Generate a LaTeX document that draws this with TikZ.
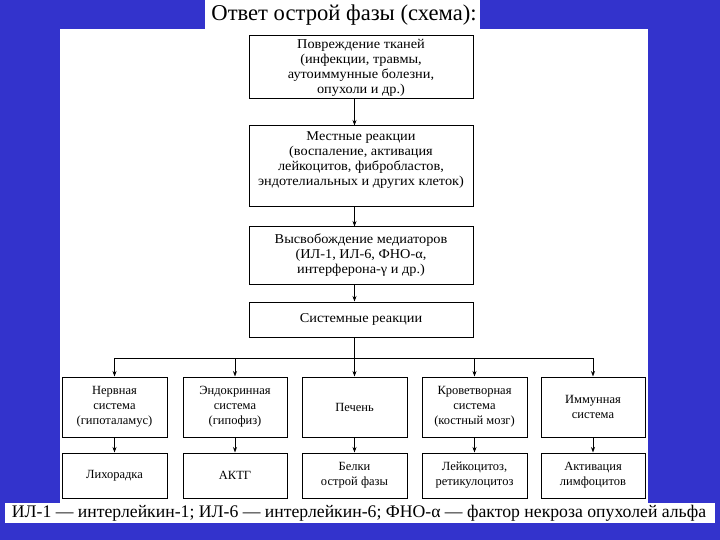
\documentclass[tikz,border=0pt]{standalone}
\usepackage{fontspec}
\setmainfont{Liberation Serif}
\newfontfamily\topfont{Liberation Serif}[FakeStretch=1.06]
\usetikzlibrary{arrows.meta}
\definecolor{bgblue}{RGB}{51,51,204}
\begin{document}
\begin{tikzpicture}[x=1pt,y=-1pt,
  box/.style={draw=black, line width=1pt, fill=white, align=center, inner sep=0pt,
              font=\fontsize{12.5}{15}\selectfont},
  topbox/.style={box, font=\topfont\fontsize{13.5}{15}\selectfont},
  plain/.style={align=center, inner sep=0pt, font=\topfont\fontsize{13.5}{15}\selectfont},
  arr/.style={-{Stealth[length=5.5pt,width=4pt]}, line width=0.8pt},
  ln/.style={line width=0.8pt}]
\fill[bgblue] (0,0) rectangle (720,540);
\useasboundingbox (0,0) rectangle (720,540);
\fill[white] (205,0) rectangle (480,30);
\fill[white] (60,29) rectangle (648,503);
\fill[white] (5,503) rectangle (715,523);
\node[inner sep=0pt] (title) at (344,15) {\fontsize{22.6}{26}\selectfont Ответ острой фазы (схема):};

% top chain
\node[topbox, minimum width=224, minimum height=63] (b1) at (361,67.5)
  {Повреждение тканей\\(инфекции, травмы,\\аутоиммунные болезни,\\опухоли и др.)};
\node[box, minimum width=224, minimum height=81] (b2) at (361,166.5) {};
\node[plain] (b2t) at (361,160)
  {Местные реакции\\(воспаление, активация\\лейкоцитов, фибробластов,\\эндотелиальных и других клеток)};
\node[topbox, minimum width=224, minimum height=57] (b3) at (361,255.5)
  {Высвобождение медиаторов\\(ИЛ-1, ИЛ-6, ФНО-α,\\интерферона-γ и др.)};
\node[topbox, minimum width=224, minimum height=35] (b4) at (361,319.5) {Системные реакции};

% systems row
\node[box, minimum width=105, minimum height=60] (nerv) at (114.5,407) {Нервная\\система\\(гипоталамус)};
\node[box, minimum width=104, minimum height=60] (endo) at (235,407) {Эндокринная\\система\\(гипофиз)};
\node[box, minimum width=105, minimum height=60] (liver) at (354.5,407) {Печень};
\node[box, minimum width=105, minimum height=60] (blood) at (474.5,407) {Кроветворная\\система\\(костный мозг)};
\node[box, minimum width=104, minimum height=60] (imm) at (593,407) {Иммунная\\система};

% effects row
\node[box, minimum width=105, minimum height=45] (fever) at (114.5,475.5) {Лихорадка};
\node[box, minimum width=104, minimum height=45] (acth) at (235,475.5) {АКТГ};
\node[box, minimum width=105, minimum height=45] (prot) at (354.5,475.5) {Белки\\острой фазы};
\node[box, minimum width=105, minimum height=45] (leuk) at (474.5,475.5) {Лейкоцитоз,\\ретикулоцитоз};
\node[box, minimum width=104, minimum height=45] (lymph) at (593,475.5) {Активация\\лимфоцитов};

% connectors
\draw[arr] (b1.south -| liver.north) -- (b2.north -| liver.north);
\draw[arr] (b2.south -| liver.north) -- (b3.north -| liver.north);
\draw[arr] (b3.south -| liver.north) -- (b4.north -| liver.north);
\coordinate (bus) at (354.5,358);
\draw[arr] (b4.south -| liver.north) -- (liver.north);
\draw[ln] (nerv.north |- bus) -- (imm.north |- bus);
\draw[arr] (nerv.north |- bus) -- (nerv.north);
\draw[arr] (endo.north |- bus) -- (endo.north);
\draw[arr] (blood.north |- bus) -- (blood.north);
\draw[arr] (imm.north |- bus) -- (imm.north);

\draw[arr] (nerv) -- (fever);
\draw[arr] (endo) -- (acth);
\draw[arr] (liver) -- (prot);
\draw[arr] (blood) -- (leuk);
\draw[arr] (imm) -- (lymph);

% footnote
\node[inner sep=0pt] (note) at (359,513.5)
  {\fontsize{17.7}{20}\selectfont ИЛ-1 — интерлейкин-1; ИЛ-6 — интерлейкин-6; ФНО-α — фактор некроза опухолей альфа};
\end{tikzpicture}
\end{document}
